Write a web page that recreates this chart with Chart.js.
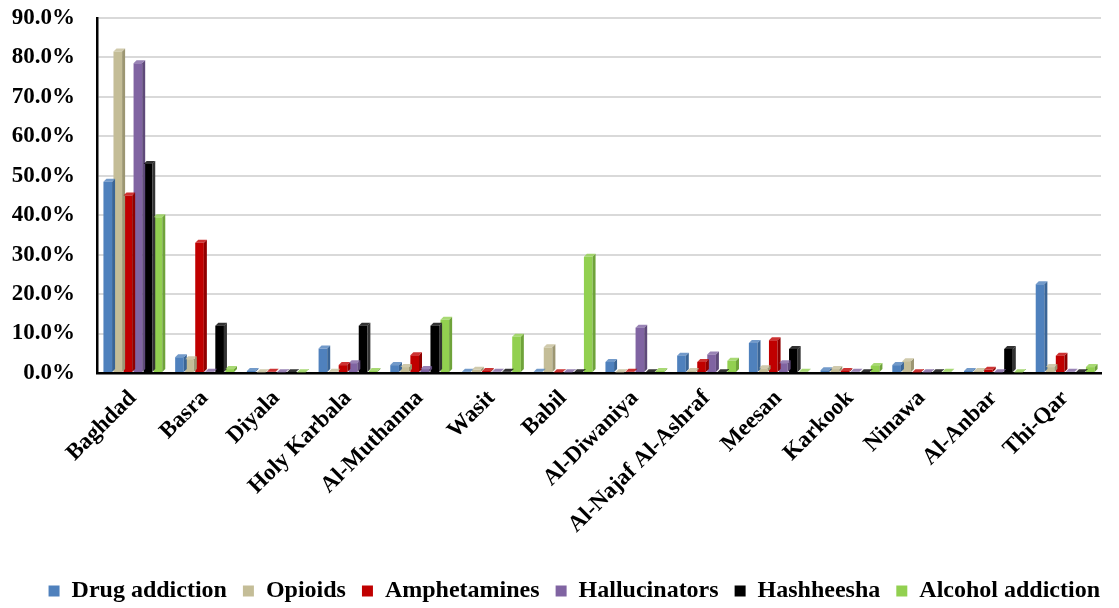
<!DOCTYPE html>
<html>
<head>
<meta charset="utf-8">
<script src="https://cdn.jsdelivr.net/npm/chart.js@4"></script>
<style>
  html, body { margin: 0; padding: 0; background: #fff; }
  #wrap { width: 1119px; height: 608px; }
</style>
</head>
<body>
<div id="wrap"><canvas id="myChart"></canvas></div>
<script>
const provinces = ['Baghdad', 'Basra', 'Diyala', 'Holy Karbala', 'Al-Muthanna', 'Wasit', 'Babil',
    'Al-Diwaniya', 'Al-Najaf Al-Ashraf', 'Meesan', 'Karkook', 'Ninawa', 'Al-Anbar', 'Thi-Qar'];

// percentages
const drugAddiction = [48.5, 4.0, 0.5, 6.2, 2.0, 0.3, 0.3, 2.8, 4.4, 7.6, 0.7, 2.0, 0.5, 22.5];
const opioids       = [81.5, 3.5, 0.2, 0.3, 1.5, 0.8, 6.5, 0.2, 0.5, 1.2, 1.0, 3.0, 0.5, 1.5];
const amphetamines  = [45.0, 33.0, 0.3, 2.0, 4.5, 0.5, 0.2, 0.3, 2.8, 8.3, 0.5, 0.2, 0.8, 4.4];
const hallucinators = [78.5, 0.3, 0.2, 2.5, 1.0, 0.3, 0.2, 11.5, 4.7, 2.5, 0.3, 0.2, 0.2, 0.3];
const hashheesha    = [53.0, 12.0, 0.2, 12.0, 12.0, 0.3, 0.2, 0.2, 0.2, 6.1, 0.2, 0.2, 6.1, 0.2];
const alcohol       = [39.5, 1.0, 0.2, 0.5, 13.5, 9.2, 29.5, 0.5, 3.1, 0.3, 1.8, 0.3, 0.2, 1.5];

const seriesNames = ['Drug addiction', 'Opioids', 'Amphetamines', 'Hallucinators', 'Hashheesha', 'Alcohol addiction'];
const seriesColors = ['#4f81bd', '#c4bd97', '#c00000', '#8064a2', '#000000', '#92d050'];
const seriesSides  = ['#3a6596', '#9c9672', '#8f0000', '#5f4a7a', '#333333', '#6fa33a'];
const yTicks = [0, 10, 20, 30, 40, 50, 60, 70, 80, 90];

const allSeries = [drugAddiction, opioids, amphetamines, hallucinators, hashheesha, alcohol];
const font = 'Liberation Serif, Times New Roman, serif';

// small side and top faces so the columns look like the 3-D ones
const depth3d = {
    id: 'depth3d',
    afterDatasetsDraw(chart) {
        const c = chart.ctx;
        const d = 3, dy = 3;
        c.save();
        chart.data.datasets.forEach((ds, i) => {
            const meta = chart.getDatasetMeta(i);
            meta.data.forEach(bar => {
                const half = bar.width / 2;
                const r = bar.x + half, l = bar.x - half;
                c.fillStyle = seriesSides[i];
                c.beginPath();
                c.moveTo(r, bar.y);
                c.lineTo(r + d, bar.y - dy);
                c.lineTo(r + d, bar.base - dy);
                c.lineTo(r, bar.base);
                c.closePath();
                c.fill();
                c.fillStyle = seriesColors[i];
                c.globalAlpha = 0.8;
                c.beginPath();
                c.moveTo(l, bar.y);
                c.lineTo(l + d, bar.y - dy);
                c.lineTo(r + d, bar.y - dy);
                c.lineTo(r, bar.y);
                c.closePath();
                c.fill();
                c.globalAlpha = 1;
            });
        });
        c.restore();
    }
};

const ctx = document.getElementById('myChart').getContext('2d');
const chart = new Chart(ctx, {
    type: 'bar',
    data: {
        labels: provinces,
        datasets: allSeries.map((vals, i) => ({
            label: seriesNames[i],
            data: vals,
            backgroundColor: seriesColors[i],
            borderWidth: 0,
            barPercentage: 0.86,
            categoryPercentage: 0.84
        }))
    },
    options: {
        responsive: true,
        maintainAspectRatio: false,
        animation: false,
        layout: { padding: { left: 6, right: 3, top: 18, bottom: -5 } },
        plugins: {
            tooltip: { enabled: false },
            legend: {
                position: 'bottom',
                align: 'end',
                labels: {
                    boxWidth: 11,
                    boxHeight: 11,
                    padding: 16,
                    color: '#000',
                    font: { family: font, size: 24, weight: 'bold' }
                }
            }
        },
        scales: {
            x: {
                grid: { display: false },
                border: { display: true, color: '#000', width: 2.5 },
                ticks: {
                    color: '#000',
                    minRotation: 45,
                    maxRotation: 45,
                    padding: 4,
                    font: { family: font, size: 23, weight: 'bold' }
                },
                afterFit(scale) {
                    scale.height = 190;
                    scale.paddingRight = 18;
                }
            },
            y: {
                min: 0,
                max: 90,
                afterBuildTicks(scale) { scale.ticks = yTicks.map(v => ({ value: v })); },
                grid: { color: '#d9d9d9', lineWidth: 2, drawTicks: false },
                border: { display: true, color: '#000', width: 2.5 },
                ticks: {
                    color: '#000',
                    padding: 22,
                    font: { family: font, size: 23, weight: 'bold' },
                    callback: v => v.toFixed(1) + '%'
                },
                afterFit(scale) {
                    scale.width = 91;
                    scale.paddingTop = 0;
                    scale.paddingBottom = 0;
                }
            }
        }
    },
    plugins: [depth3d]
});
</script>
</body>
</html>
